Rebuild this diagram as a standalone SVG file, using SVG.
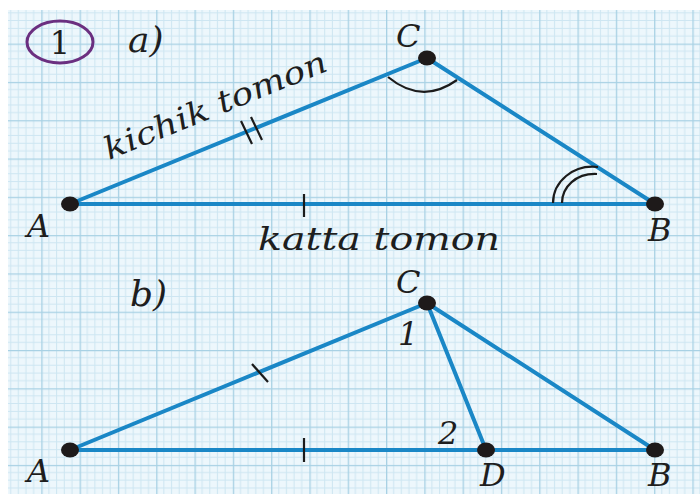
<svg xmlns="http://www.w3.org/2000/svg" width="700" height="494" viewBox="0 0 700 494">
<defs>
<pattern id="grid" patternUnits="userSpaceOnUse" x="3" y="5.3" width="38.3" height="38.3">
<rect width="38.3" height="38.3" fill="#edf7fc"/>
<path d="M7.66 0V38.3M15.32 0V38.3M22.98 0V38.3M30.64 0V38.3M0 7.66H38.3M0 15.32H38.3M0 22.98H38.3M0 30.64H38.3" stroke="#cde6f2" stroke-width="1" fill="none"/>
<path d="M0.5 0V38.3M0 0.5H38.3" stroke="#a8d1e4" stroke-width="1.6" fill="none"/>
</pattern>
<style>
.edge{stroke:#1a87c6;stroke-width:4;fill:none;stroke-linecap:round}
.tick{stroke:#1b1b1b;stroke-width:2.2;fill:none}
.pt{fill:#1e1a1a}
.lbl{font-family:"DejaVu Serif",serif;font-style:italic;font-size:32px;fill:#1e1e1e}
.hdr{font-family:"DejaVu Serif",serif;font-style:italic;font-size:36px;fill:#1e1e1e}
.txt{font-family:"DejaVu Serif",serif;font-style:italic;font-size:31px;fill:#1e1e1e}
</style>
</defs>
<rect width="700" height="494" fill="#ffffff"/>
<rect x="8" y="10" width="692" height="484" fill="url(#grid)"/>

<g id="header-a">
<ellipse cx="60" cy="42" rx="33" ry="21" fill="none" stroke="#6b2f80" stroke-width="3"/>
<text x="60" y="54" font-family="DejaVu Serif,serif" font-size="32" fill="#1e1e1e" text-anchor="middle">1</text>
<text class="hdr" x="128" y="52">a)</text>
</g>

<g id="connectors">
<line class="edge" x1="70" y1="204" x2="427" y2="58"/>
<line class="edge" x1="427" y1="58" x2="655" y2="204"/>
<line class="edge" x1="70" y1="204" x2="655" y2="204"/>
<line class="edge" x1="70" y1="450" x2="427" y2="303"/>
<line class="edge" x1="427" y1="303" x2="655" y2="450"/>
<line class="edge" x1="427" y1="303" x2="486" y2="450"/>
<line class="edge" x1="70" y1="450" x2="655" y2="450"/>
</g>

<g id="marks-a">
<path class="tick" d="M241 121L252 144M251 117L262 140"/>
<line class="tick" x1="304" y1="194" x2="304" y2="217"/>
<path class="tick" d="M388 77Q422 105 457 80"/>
<path class="tick" d="M553 203C553 182 573 164 598 167"/>
<path class="tick" d="M562 203C562 187 576 173 597 174"/>
</g>

<g id="marks-b">
<line class="tick" x1="252" y1="364" x2="268" y2="382"/>
<line class="tick" x1="304" y1="438" x2="304" y2="462"/>
</g>

<g id="labels-a">
<text class="txt" transform="translate(109,160) rotate(-22.2)" textLength="238" lengthAdjust="spacingAndGlyphs">kichik tomon</text>
<text class="txt" x="258" y="250" textLength="242" lengthAdjust="spacingAndGlyphs">katta tomon</text>
</g>

<g id="node-A-a"><ellipse class="pt" cx="70" cy="204" rx="9" ry="7.5"/><text class="lbl" x="27" y="237">A</text></g>
<g id="node-C-a"><ellipse class="pt" cx="427" cy="58" rx="9" ry="7.5"/><text class="lbl" x="396" y="47">C</text></g>
<g id="node-B-a"><ellipse class="pt" cx="655" cy="204" rx="9" ry="7.5"/><text class="lbl" x="648" y="241">B</text></g>

<g id="header-b"><text class="hdr" x="130" y="306">b)</text></g>
<g id="node-A-b"><ellipse class="pt" cx="70" cy="450" rx="9" ry="7.5"/><text class="lbl" x="27" y="482">A</text></g>
<g id="node-C-b"><ellipse class="pt" cx="427" cy="303" rx="9" ry="7.5"/><text class="lbl" x="396" y="293">C</text><text class="lbl" x="398" y="345">1</text></g>
<g id="node-D-b"><ellipse class="pt" cx="486" cy="450" rx="9" ry="7.5"/><text class="lbl" x="480" y="486">D</text><text class="lbl" x="438" y="444">2</text></g>
<g id="node-B-b"><ellipse class="pt" cx="655" cy="450" rx="9" ry="7.5"/><text class="lbl" x="648" y="486">B</text></g>
</svg>
